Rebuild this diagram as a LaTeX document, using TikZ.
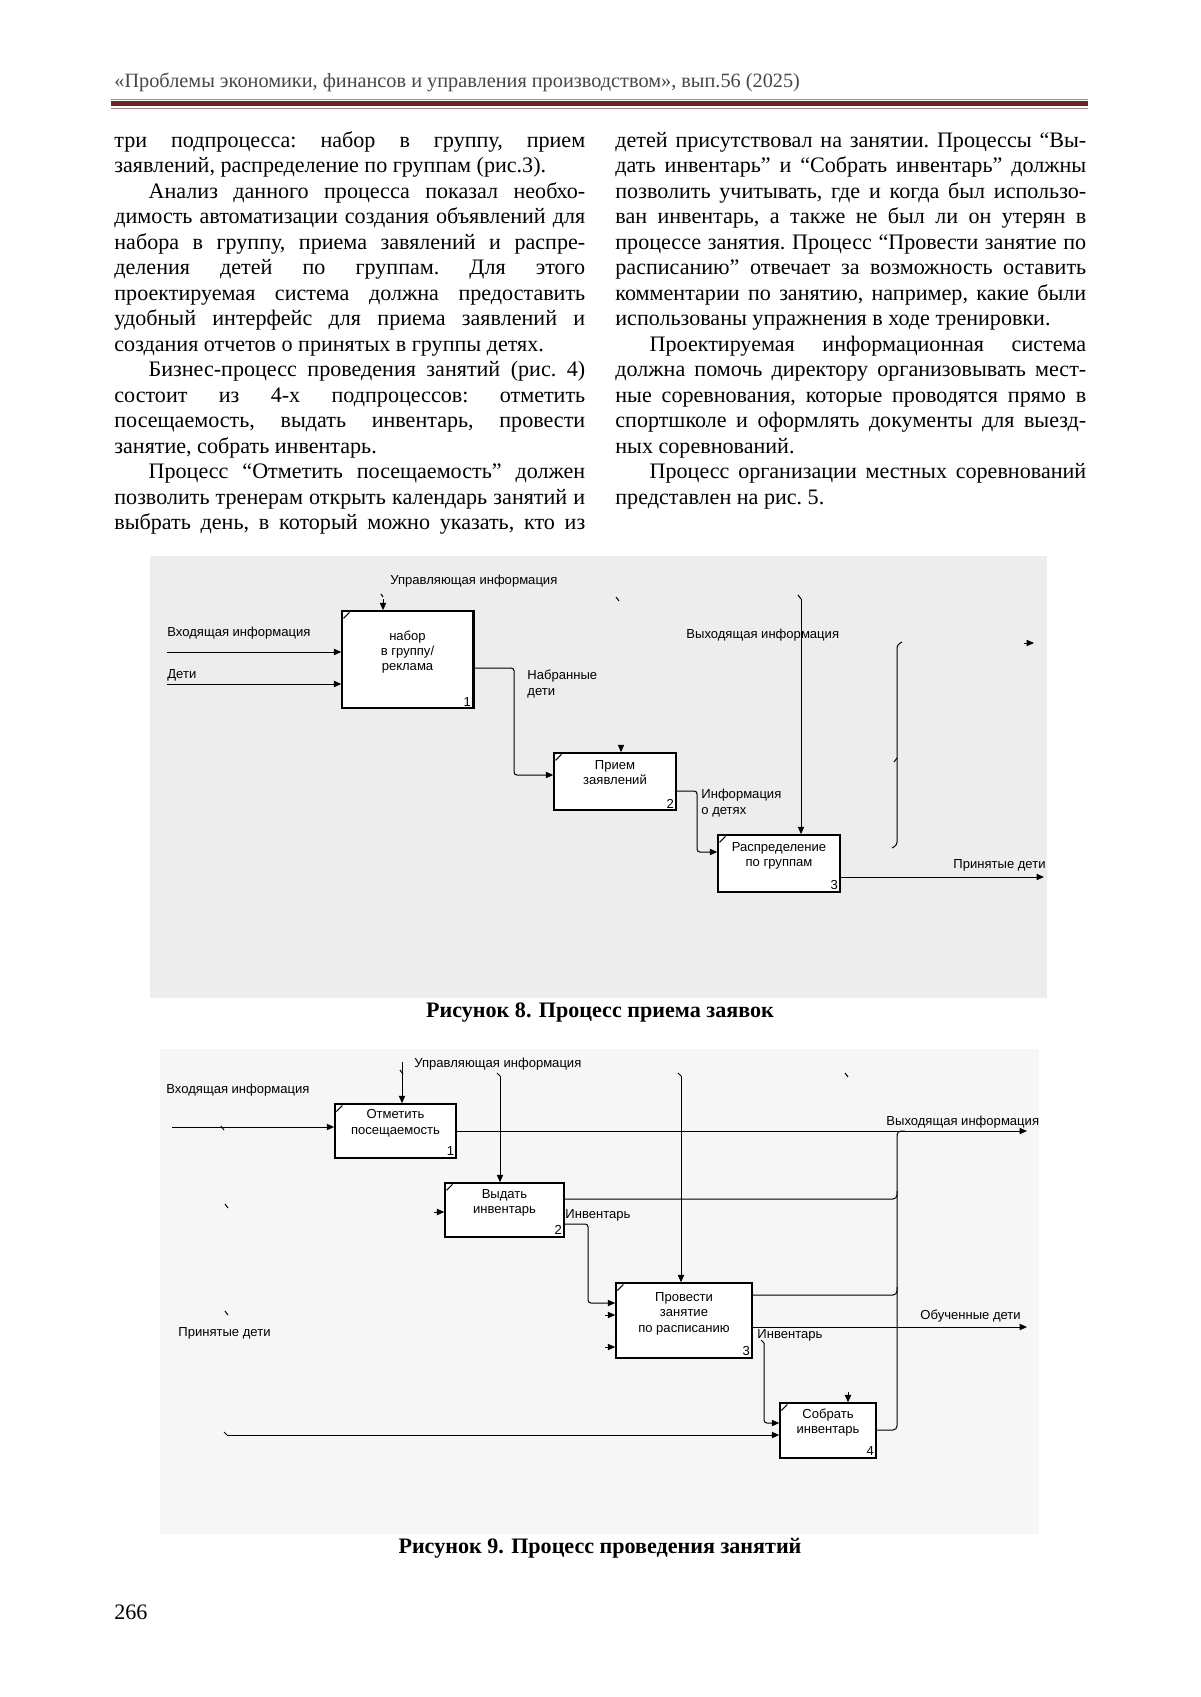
\documentclass[tikz,border=0pt]{standalone}
\usepackage{fontspec}
\setmainfont{Liberation Serif}
\newfontfamily\diagfont{Liberation Sans}
\usetikzlibrary{positioning,arrows.meta}
\definecolor{rulered}{HTML}{6B2626}
\definecolor{bgA}{HTML}{EDEDED}
\definecolor{bgB}{HTML}{F6F6F6}
\newcommand\idefont{\diagfont\fontsize{6.5}{7.6}\selectfont}
\newcommand\bodyfont{\fontsize{11}{12.7}\selectfont}
\newcommand\capfont{\bfseries\fontsize{11}{12.7}\selectfont}

\begin{document}
\begin{tikzpicture}[x=0.175mm, y=-0.175mm,
  every node/.style={inner sep=0pt},
  coltext/.style={anchor=north west, text width=82.4mm, align=justify, font=\bodyfont,
    execute at begin node={\frenchspacing\tolerance=10000\hbadness=10000\hyphenpenalty=10000}},
  fn/.style={draw, fill=white, line width=0.75pt,
    path picture={\draw[line width=0.5pt]
      ([xshift=0.25mm,yshift=-1.3mm]path picture bounding box.north west) --
      ([xshift=1.3mm,yshift=-0.25mm]path picture bounding box.north west);}},
  fntext/.style={font=\idefont, align=center},
  fnnum/.style={font=\idefont, anchor=south east, inner sep=1.2pt},
  lbl/.style={font=\idefont, anchor=west, align=left},
  wire/.style={line width=0.5pt},
  flow/.style={wire, -{Triangle[length=1.3mm,width=1.1mm]}}]

  \fill[white] (0,0) rectangle (1200,1697);
  \useasboundingbox (0,0) rectangle (1200,1697);

  % running head
  \node[anchor=base west, font=\fontsize{10.1}{12}\selectfont, text=black!72] (head) at (114,88)
    {«Проблемы экономики, финансов и управления производством», вып.56 (2025)};
  \draw[rulered!55, line width=0.35pt] (111,99) -- (1088,99);
  \fill[rulered] (111,101) rectangle (1088,106);
  \draw[rulered!55, line width=0.35pt] (111,108) -- (1088,108);

  % two columns of text
  \node[coltext] (lcol) at (114,129) {\strut три подпроцесса: набор в группу, прием\linebreak
    заявлений, распределение по группам (рис.3).\\
    \hspace*{6mm}Анализ данного процесса показал необхо-\linebreak
    димость автоматизации создания объявлений для\linebreak
    набора в группу, приема завялений и распре-\linebreak
    деления детей по группам. Для этого\linebreak
    проектируемая система должна предоставить\linebreak
    удобный интерфейс для приема заявлений и\linebreak
    создания отчетов о принятых в группы детях.\\
    \hspace*{6mm}Бизнес-процесс проведения занятий (рис. 4)\linebreak
    состоит из 4-х подпроцессов: отметить\linebreak
    посещаемость, выдать инвентарь, провести\linebreak
    занятие, собрать инвентарь.\\
    \hspace*{6mm}Процесс “Отметить посещаемость” должен\linebreak
    позволить тренерам открыть календарь занятий и\linebreak
    выбрать день, в который можно указать, кто из\linebreak\mbox{}};
  \node[coltext] (rcol) at (615,129) {\strut детей присутствовал на занятии. Процессы “Вы-\linebreak
    дать инвентарь” и “Собрать инвентарь” должны\linebreak
    позволить учитывать, где и когда был использо-\linebreak
    ван инвентарь, а также не был ли он утерян в\linebreak
    процессе занятия. Процесс “Провести занятие по\linebreak
    расписанию” отвечает за возможность оставить\linebreak
    комментарии по занятию, например, какие были\linebreak
    использованы упражнения в ходе тренировки.\\
    \hspace*{6mm}Проектируемая информационная система\linebreak
    должна помочь директору организовывать мест-\linebreak
    ные соревнования, которые проводятся прямо в\linebreak
    спортшколе и оформлять документы для выезд-\linebreak
    ных соревнований.\\
    \hspace*{6mm}Процесс организации местных соревнований\linebreak
    представлен на рис. 5.};

  % ---- figure 8
  \fill[bgA] (150,556) rectangle (1047,998);
  \node[fn, minimum width=22.9mm, minimum height=17mm] (nabor) at (407.5,659.5) {};
  \node[fn, minimum width=21.35mm, minimum height=10mm] (priem) at (615,781.5) {};
  \node[fn, minimum width=21.35mm, minimum height=10mm] (raspr) at (779,863.5) {};
  \draw[line width=1.6pt] (nabor.north east) -- (nabor.south east);
  \node[fntext, below=3.5mm of nabor.north] (nabort) {набор\\в группу/\\реклама};
  \node[fntext, below=1.4mm of priem.north] (priemt) {Прием\\заявлений};
  \node[fntext, below=1.4mm of raspr.north] (raspt) {Распределение\\по группам};
  \node[fnnum] (n1) at (nabor.south east) {1};
  \node[fnnum] (n2) at (priem.south east) {2};
  \node[fnnum] (n3) at (raspr.south east) {3};

  \coordinate (ca) at (383,599);
  \coordinate (cb) at (621,745);
  \coordinate (cc) at (801,599);
  \coordinate (ia) at (167,652);
  \coordinate (ib) at (167,684);
  \coordinate (ka) at (514,668);
  \coordinate (kb) at (514,775);
  \coordinate (kc) at (697,791);
  \coordinate (kd) at (697,852);
  \coordinate (oa) at (1044,877);
  \draw[flow] (ca) -- (ca |- nabor.north);
  \draw[flow] (cb) -- (cb |- priem.north);
  \draw[flow] (cc) -- (cc |- raspr.north);
  \draw[flow] (ia) -- (ia -| nabor.west);
  \draw[flow] (ib) -- (ib -| nabor.west);
  \draw[flow, rounded corners=0.5mm] (ka -| nabor.east) -- (ka) -- (kb) -- (kb -| priem.west);
  \draw[flow, rounded corners=0.5mm] (kc -| priem.east) -- (kc) -- (kd) -- (kd -| raspr.west);
  \draw[flow] (oa -| raspr.east) -- (oa);
  \draw[wire, rounded corners=0.5mm] (902,642) -- (897,645) -- (897,845) -- (892,848);
  \draw[wire] (897,758) -- (894,762);
  \draw[flow] (1024,643) -- (1034,643);
  \draw[wire] (381,594) -- (383,597);
  \draw[wire] (616,597) -- (619,601);
  \draw[wire] (798,595) -- (801,599);

  \node[lbl] (la) at (390,581) {Управляющая информация};
  \node[lbl] (lb) at (167,633) {Входящая информация};
  \node[lbl] (lc) at (167,675) {Дети};
  \node[lbl, anchor=north west] (ld) at (527,670) {Набранные\\дети};
  \node[lbl, anchor=north west] (le) at (701,789) {Информация\\о детях};
  \node[lbl] (lf) at (686,635) {Выходящая информация};
  \node[lbl] (lg) at (953,865) {Принятые дети};

  \node[font=\capfont] (cap8) at (600,1013) {Рисунок 8. Процесс приема заявок};

  % ---- figure 9
  \fill[bgB] (160,1049) rectangle (1039,1534);
  \node[fn, minimum width=21.2mm, minimum height=9.45mm] (otm) at (395.5,1131) {};
  \node[fn, minimum width=20.8mm, minimum height=9.45mm] (vyd) at (504.5,1210) {};
  \node[fn, minimum width=23.8mm, minimum height=13.1mm] (prov) at (684,1320.5) {};
  \node[fn, minimum width=16.8mm, minimum height=9.6mm] (sobr) at (828,1430.5) {};
  \node[fntext, below=1.05mm of otm.north] (otmt) {Отметить\\посещаемость};
  \node[fntext, below=1.2mm of vyd.north] (vydt) {Выдать\\инвентарь};
  \node[fntext, below=1.75mm of prov.north] (provt) {Провести\\занятие\\по расписанию};
  \node[fntext, below=1.05mm of sobr.north] (sobrt) {Собрать\\инвентарь};
  \node[fnnum] (m1) at (otm.south east) {1};
  \node[fnnum] (m2) at (vyd.south east) {2};
  \node[fnnum] (m3) at (prov.south east) {3};
  \node[fnnum] (m4) at (sobr.south east) {4};

  \coordinate (c1) at (402,1062);
  \coordinate (c2) at (500,1076);
  \coordinate (c3) at (681,1076);
  \coordinate (c4) at (848,1392);
  \coordinate (i1) at (172,1127);
  \coordinate (i2) at (434,1212);
  \coordinate (i3) at (605,1315);
  \coordinate (i4) at (605,1347);
  \coordinate (i5) at (227,1435);
  \coordinate (o1) at (1027,1131);
  \coordinate (o2) at (1027,1327);
  \coordinate (bus) at (897,1131);
  \coordinate (vu) at (897,1199);
  \coordinate (pu) at (897,1295);
  \coordinate (sb) at (897,1430);
  \coordinate (k1) at (588,1224);
  \coordinate (k2) at (588,1303);
  \coordinate (k3) at (764,1343);
  \coordinate (k4) at (764,1423);
  \draw[flow] (c1) -- (c1 |- otm.north);
  \draw[flow] (c2) -- (c2 |- vyd.north);
  \draw[flow] (c3) -- (c3 |- prov.north);
  \draw[flow] (c4) -- (c4 |- sobr.north);
  \draw[flow] (i1) -- (i1 -| otm.west);
  \draw[flow] (i2) -- (i2 -| vyd.west);
  \draw[flow] (i3) -- (i3 -| prov.west);
  \draw[flow] (i4) -- (i4 -| prov.west);
  \draw[flow] (i5) -- (i5 -| sobr.west);
  \draw[flow] (o1 -| otm.east) -- (o1);
  \draw[flow] (o2 -| prov.east) -- (o2);
  \draw[flow, rounded corners=0.5mm] (k1 -| vyd.east) -- (k1) -- (k2) -- (k2 -| prov.west);
  \draw[flow, rounded corners=0.5mm] (k3) -- (k4) -- (k4 -| sobr.west);
  \draw[wire, rounded corners=0.7mm] (vu -| vyd.east) -- (vu) -- ++(0,-8);
  \draw[wire, rounded corners=0.7mm] (pu -| prov.east) -- (pu) -- ++(0,-8);
  \draw[wire, rounded corners=0.7mm] (sb -| sobr.east) -- (sb) -- (bus) -- ++(8,0);
  % stray ticks
  \draw[wire] (400,1070) -- (403,1074);
  \draw[wire] (497,1073) -- (500,1076);
  \draw[wire] (678,1073) -- (681,1076);
  \draw[wire] (845,1073) -- (848,1077);
  \draw[wire] (221,1126) -- (224,1130);
  \draw[wire] (225,1204) -- (228,1208);
  \draw[wire] (225,1311) -- (228,1315);
  \draw[wire] (224,1432) -- (227,1435);
  \draw[wire] (761,1340) -- (764,1343);

  \node[lbl] (l1) at (414,1064) {Управляющая информация};
  \node[lbl] (l2) at (166,1090) {Входящая информация};
  \node[lbl] (l3) at (886,1122) {Выходящая информация};
  \node[lbl] (l4) at (565,1215) {Инвентарь};
  \node[lbl] (l5) at (920,1316) {Обученные дети};
  \node[lbl] (l6) at (757,1335) {Инвентарь};
  \node[lbl] (l7) at (178,1333) {Принятые дети};

  \node[font=\capfont] (cap9) at (600,1548) {Рисунок 9. Процесс проведения занятий};

  \node[anchor=west, font=\bodyfont] (page) at (114,1612) {266};
\end{tikzpicture}
\end{document}
